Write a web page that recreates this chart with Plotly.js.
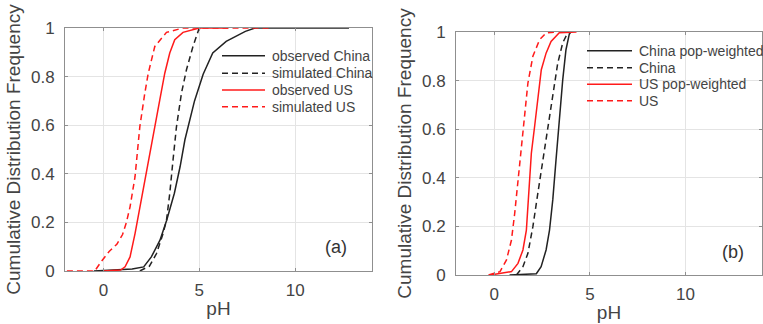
<!DOCTYPE html>
<html>
<head>
<meta charset="utf-8">
<script src="https://cdn.plot.ly/plotly-3.0.1.min.js"></script>
<style>html,body{margin:0;padding:0;background:#fff;}#chart{width:763px;height:324px;}</style>
</head>
<body>
<div id="chart"></div>
<script>
// ---- Panel (a) data ----
const obsChinaX = [-0.5, 1.0, 1.5, 2.1, 2.5, 2.95, 3.3, 3.7, 4.0, 4.25, 4.5, 4.75, 5.2, 5.7, 6.4, 7.4, 7.9, 12.8];
const obsChinaY = [0, 0.004, 0.008, 0.017, 0.058, 0.127, 0.209, 0.32, 0.43, 0.54, 0.62, 0.70, 0.81, 0.897, 0.945, 0.986, 1, 1];
const simChinaX = [1.9, 2.4, 2.77, 3.11, 3.29, 3.46, 3.63, 3.81, 4.07, 4.33, 4.67, 4.98, 5.1];
const simChinaY = [0, 0.02, 0.072, 0.154, 0.209, 0.319, 0.457, 0.594, 0.732, 0.828, 0.924, 0.996, 1];
const obsUSX = [0, 0.9, 1.13, 1.39, 1.65, 1.9, 2.16, 2.42, 2.68, 2.94, 3.2, 3.46, 3.72, 4.15, 5.0, 6.5];
const obsUSY = [0, 0.004, 0.017, 0.058, 0.154, 0.264, 0.374, 0.484, 0.594, 0.704, 0.814, 0.897, 0.952, 0.982, 1, 1];
const simUSX = [-1.9, -0.45, -0.1, 0.3, 0.7, 1.0, 1.2, 1.39, 1.65, 1.9, 2.16, 2.34, 2.68, 3.29, 4.15, 8.7];
const simUSY = [0, 0, 0.04, 0.08, 0.11, 0.15, 0.2, 0.264, 0.388, 0.594, 0.732, 0.814, 0.924, 0.982, 1, 1];

// ---- Panel (b) data ----
const chinaPopX = [0.8, 2.2, 2.45, 2.71, 2.89, 3.06, 3.23, 3.4, 3.58, 3.75, 3.92, 4.0];
const chinaPopY = [0, 0.005, 0.034, 0.103, 0.185, 0.309, 0.474, 0.639, 0.803, 0.927, 0.99, 1];
const chinaX = [1.16, 1.5, 1.76, 2.02, 2.28, 2.54, 2.8, 3.06, 3.32, 3.58, 3.83, 4.0];
const chinaY = [0, 0.034, 0.089, 0.199, 0.337, 0.474, 0.611, 0.749, 0.872, 0.955, 0.995, 1];
const usPopX = [-0.2, 0.9, 1.24, 1.5, 1.68, 1.81, 1.94, 2.11, 2.28, 2.46, 2.71, 2.97, 3.4, 4.3];
const usPopY = [0, 0.014, 0.048, 0.103, 0.185, 0.337, 0.501, 0.611, 0.735, 0.845, 0.913, 0.961, 0.997, 1];
const usX = [-0.3, 0.3, 0.64, 0.9, 1.07, 1.24, 1.42, 1.59, 1.76, 2.02, 2.37, 2.71, 3.2];
const usY = [0, 0.014, 0.062, 0.144, 0.254, 0.391, 0.529, 0.666, 0.79, 0.9, 0.968, 0.996, 1];

const namesA = ['observed China', 'simulated China', 'observed US', 'simulated US'];
const namesB = ['China pop-weighted', 'China', 'US pop-weighted', 'US'];
const xTicks = [0, 5, 10];
const yTicks = [0, 0.2, 0.4, 0.6, 0.8, 1];
const panelLabels = ['(a)', '(b)'];

const BLACK = '#222222', RED = '#ff1a1a', DASH = '6px,4px';
const styles = [[BLACK, false], [BLACK, true], [RED, false], [RED, true]];
function tr(x, y, name, st, xa, ya) {
  return {x: x, y: y, name: name, type: 'scatter', mode: 'lines', xaxis: xa, yaxis: ya, showlegend: false,
    line: {color: st[0], width: 1.5, dash: st[1] ? DASH : 'solid'}};
}
const data = [
  tr(obsChinaX, obsChinaY, namesA[0], styles[0], 'x', 'y'),
  tr(simChinaX, simChinaY, namesA[1], styles[1], 'x', 'y'),
  tr(obsUSX, obsUSY, namesA[2], styles[2], 'x', 'y'),
  tr(simUSX, simUSY, namesA[3], styles[3], 'x', 'y'),
  tr(chinaPopX, chinaPopY, namesB[0], styles[0], 'x2', 'y2'),
  tr(chinaX, chinaY, namesB[1], styles[1], 'x2', 'y2'),
  tr(usPopX, usPopY, namesB[2], styles[2], 'x2', 'y2'),
  tr(usX, usY, namesB[3], styles[3], 'x2', 'y2')
];

const FONT = 'Liberation Sans, Arial, sans-serif';
function xax(domain, anchor) {
  return {domain: domain, anchor: anchor, range: [-2, 14], tickvals: xTicks, showgrid: true, gridcolor: '#e4e4e4',
    zeroline: false, showline: true, linecolor: '#8f8f8f', linewidth: 1, mirror: 'ticks', ticks: 'inside', ticklen: 3,
    tickcolor: '#8f8f8f', tickfont: {family: FONT, size: 17, color: '#444'}, ticklabelstandoff: 4,
    title: {text: 'pH', font: {family: FONT, size: 19, color: '#444'}, standoff: 2}};
}
function yax(domain, anchor) {
  return {domain: domain, anchor: anchor, range: [0, 1], tickvals: yTicks, showgrid: true, gridcolor: '#e4e4e4',
    zeroline: false, showline: true, linecolor: '#8f8f8f', linewidth: 1, mirror: 'ticks', ticks: 'inside', ticklen: 3,
    tickcolor: '#8f8f8f', tickfont: {family: FONT, size: 17, color: '#444'}, ticklabelstandoff: 6,
    title: {text: 'Cumulative Distribution Frequency', font: {family: FONT, size: 19, color: '#444'}, standoff: 5}};
}

// manual legends (paper coordinates, in px of the 763x324 figure)
const W = 763, H = 324;
const legA = {x0: 222, x1: 265, tx: 270, rows: [55.7, 73.3, 90, 106.7]};
const legB = {x0: 587, x1: 632, tx: 637, rows: [50.7, 67.7, 84.3, 100.7]};
const shapes = [], annotations = [];
function addLegend(leg, names) {
  names.forEach(function (nm, i) {
    const py = 1 - leg.rows[i] / H;
    shapes.push({type: 'line', xref: 'paper', yref: 'paper', x0: leg.x0 / W, x1: leg.x1 / W, y0: py, y1: py,
      line: {color: styles[i][0], width: 1.5, dash: styles[i][1] ? DASH : 'solid'}});
    annotations.push({xref: 'paper', yref: 'paper', x: leg.tx / W, y: py, xanchor: 'left', yanchor: 'middle',
      text: nm, showarrow: false, font: {family: FONT, size: 14, color: '#444'}});
  });
}
addLegend(legA, namesA);
addLegend(legB, namesB);
annotations.push({xref: 'x', yref: 'y', x: 12.1, y: 0.1, text: panelLabels[0], showarrow: false, font: {family: FONT, size: 18, color: '#333'}});
annotations.push({xref: 'x2', yref: 'y2', x: 12.5, y: 0.096, text: panelLabels[1], showarrow: false, font: {family: FONT, size: 18, color: '#333'}});

const layout = {
  width: W, height: H, margin: {l: 0, r: 0, t: 0, b: 0}, paper_bgcolor: '#fff', plot_bgcolor: '#fff',
  showlegend: false,
  xaxis: xax([65/W, 372/W], 'y'),
  yaxis: yax([53/H, 296/H], 'x'),
  xaxis2: xax([456/W, 762/W], 'y2'),
  yaxis2: yax([49/H, 292/H], 'x2'),
  shapes: shapes,
  annotations: annotations
};
Plotly.newPlot('chart', data, layout, {staticPlot: true, displayModeBar: false});
</script>
</body>
</html>
